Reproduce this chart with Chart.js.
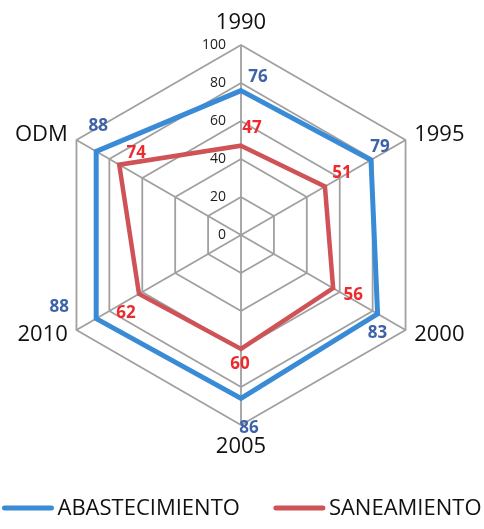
<!DOCTYPE html>
<html>
<head>
<meta charset="utf-8">
<script src="https://cdn.jsdelivr.net/npm/chart.js@4/dist/chart.umd.min.js"></script>
<style>
  html, body { margin: 0; padding: 0; background: #ffffff; }
  #wrap { width: 484px; height: 529px; }
</style>
</head>
<body>
<div id="wrap"><canvas id="c" width="484" height="529"></canvas></div>
<script>
// Categories and series values
const categories = ['1990', '1995', '2000', '2005', '2010', 'ODM'];
const abastecimiento = [76, 79, 83, 86, 88, 88];
const saneamiento = [47, 51, 56, 60, 62, 74];
const tickValues = [0, 20, 40, 60, 80, 100];
const seriesNames = ['ABASTECIMIENTO', 'SANEAMIENTO'];

// Label nudges (dx, dy) for the value labels, per series and per category
const labelNudges = [
  [[17, -13], [9, -13], [0, 19], [8, 30], [-37, -11], [2, -25]],
  [[11, -18], [17, -13], [20, 7], [-1, 15], [-13, 19], [17, -12]]
];

const FONT = '"Open Sans", "Noto Sans", sans-serif';
const lineColors = ['#3a8bd6', '#cf5257'];
const valueColors = ['#3e62a8', '#ee2a2f'];

const textPlugin = {
  id: 'radarText',
  afterDraw(chart) {
    const ctx = chart.ctx;
    const scale = chart.scales.r;
    const xc = scale.xCenter, yc = scale.yCenter, R = scale.drawingArea;
    ctx.save();

    // Tick labels, left of the vertical axis
    ctx.font = '14px ' + FONT;
    ctx.fillStyle = '#1c1c1c';
    ctx.textAlign = 'right';
    ctx.textBaseline = 'middle';
    tickValues.forEach(v => {
      const d = scale.getDistanceFromCenterForValue(v);
      ctx.fillText(String(v), xc - 15, yc - d);
    });

    // Category labels around the outer ring
    ctx.font = '22px ' + FONT;
    ctx.fillStyle = '#111111';
    categories.forEach((cat, i) => {
      const probe = scale.getPointPosition(i, R);
      const vertical = Math.abs(probe.x - xc) < 1;
      const p = scale.getPointPosition(i, R + (vertical ? 22 : 10));
      ctx.textBaseline = 'middle';
      ctx.textAlign = vertical ? 'center' : (p.x > xc ? 'left' : 'right');
      ctx.fillText(cat, p.x, p.y);
    });

    // Value labels next to each vertex
    ctx.font = 'bold 17px ' + FONT;
    ctx.textAlign = 'center';
    ctx.textBaseline = 'middle';
    chart.data.datasets.forEach((ds, s) => {
      ctx.fillStyle = valueColors[s];
      ds.data.forEach((v, i) => {
        const p = scale.getPointPosition(i, scale.getDistanceFromCenterForValue(v));
        const n = labelNudges[s][i];
        ctx.fillText(String(v), p.x + n[0], p.y + n[1]);
      });
    });

    // Legend along the bottom
    ctx.font = '22px ' + FONT;
    const lineLen = 51, gapText = 4, gapItems = 34, ly = 508;
    const widths = chart.data.datasets.map(ds => lineLen + gapText + ctx.measureText(ds.label).width);
    const total = widths.reduce((a, b) => a + b, 0) + gapItems * (widths.length - 1);
    let x = (chart.width - total) / 2;
    chart.data.datasets.forEach((ds, s) => {
      ctx.strokeStyle = ds.borderColor;
      ctx.lineWidth = 5;
      ctx.lineCap = 'round';
      ctx.beginPath();
      ctx.moveTo(x + 2, ly);
      ctx.lineTo(x + lineLen - 2, ly);
      ctx.stroke();
      ctx.fillStyle = '#111111';
      ctx.textAlign = 'left';
      ctx.textBaseline = 'middle';
      ctx.fillText(ds.label, x + lineLen + gapText, ly + 1);
      x += widths[s] + gapItems;
    });

    ctx.restore();
  }
};

new Chart(document.getElementById('c'), {
  type: 'radar',
  data: {
    labels: categories,
    datasets: [
      {
        label: seriesNames[0],
        data: abastecimiento,
        borderColor: lineColors[0],
        borderWidth: 5,
        fill: false,
        pointRadius: 0,
        pointHoverRadius: 0
      },
      {
        label: seriesNames[1],
        data: saneamiento,
        borderColor: lineColors[1],
        borderWidth: 4.5,
        fill: false,
        pointRadius: 0,
        pointHoverRadius: 0
      }
    ]
  },
  options: {
    responsive: false,
    animation: false,
    devicePixelRatio: 1,
    layout: { padding: { left: 51, right: 53, top: 45, bottom: 104 } },
    plugins: {
      legend: { display: false },
      tooltip: { enabled: false }
    },
    elements: { line: { tension: 0, borderJoinStyle: 'miter' } },
    scales: {
      r: {
        min: 0,
        max: 100,
        ticks: { stepSize: 20, display: false },
        grid: { color: '#a0a0a0', lineWidth: 1.8 },
        angleLines: { color: '#a0a0a0', lineWidth: 1.8 },
        pointLabels: { display: false }
      }
    }
  },
  plugins: [textPlugin]
});
</script>
</body>
</html>
